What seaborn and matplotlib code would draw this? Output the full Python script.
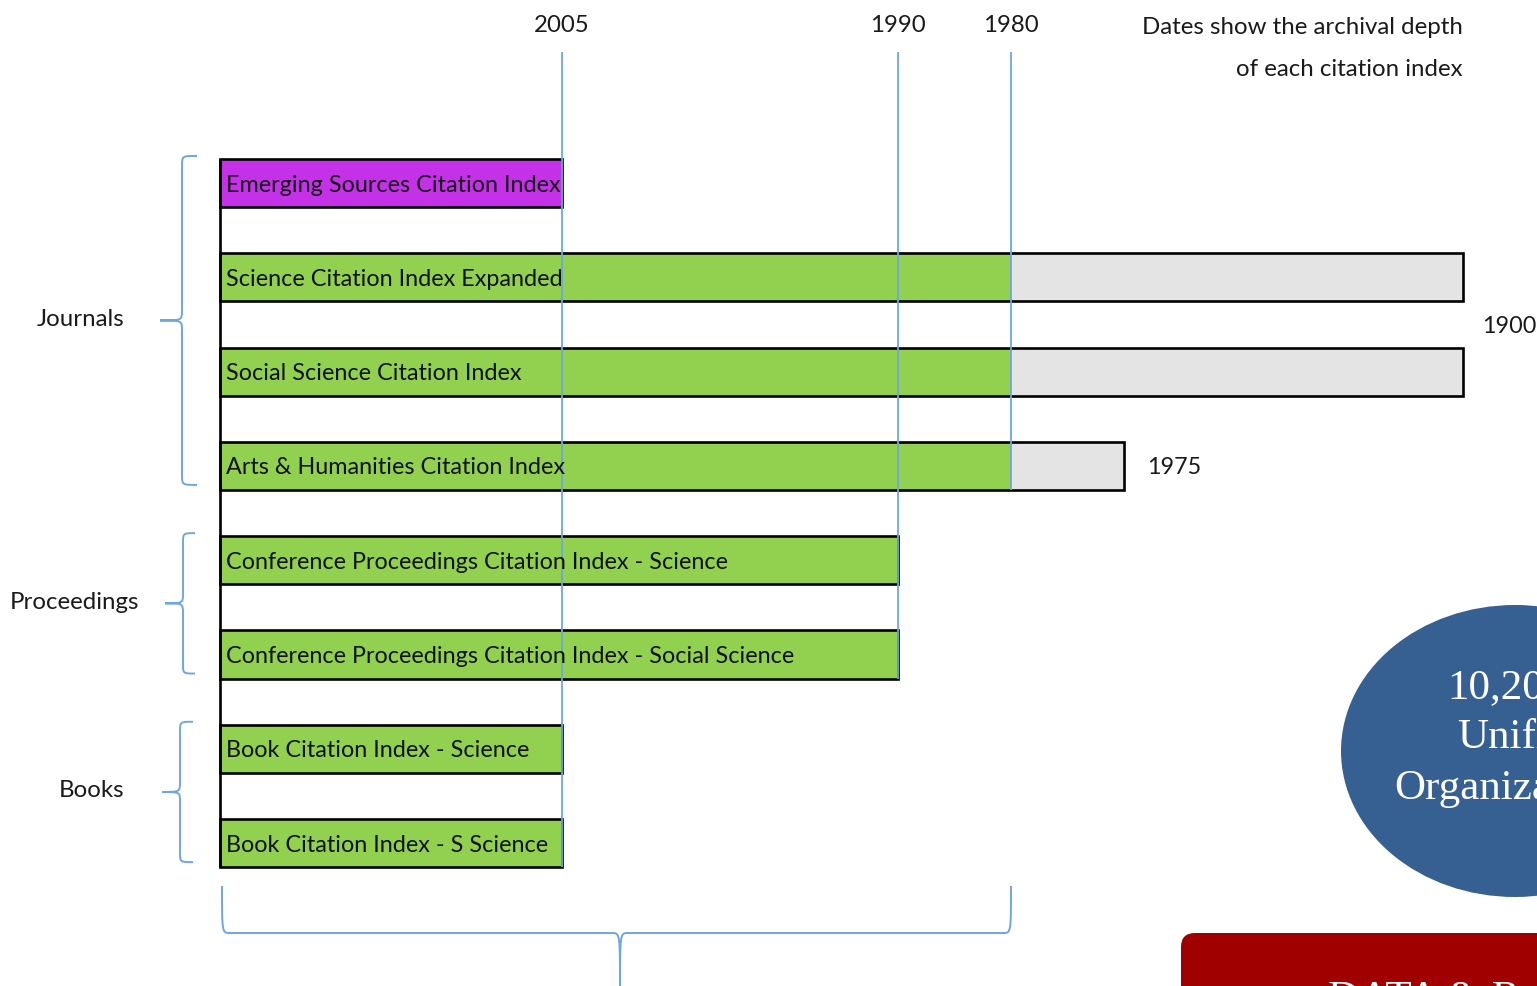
import numpy as np
import pandas as pd
import matplotlib
matplotlib.use('Agg')
import matplotlib.pyplot as plt
import seaborn as sns
from matplotlib.path import Path
from matplotlib.patches import PathPatch, Ellipse, FancyBboxPatch

# citation indexes and how far back each one goes
indexes = ['Emerging Sources Citation Index',
           'Science Citation Index Expanded',
           'Social Science Citation Index',
           'Arts & Humanities Citation Index',
           'Conference Proceedings Citation Index - Science',
           'Conference Proceedings Citation Index - Social Science',
           'Book Citation Index - Science',
           'Book Citation Index - S Science']
start_year = [2005, 1900, 1900, 1975, 1990, 1990, 2005, 2005]
colour_year = [2005, 1980, 1980, 1980, 1990, 1990, 2005, 2005]
kind = ['emerging', 'core', 'core', 'core', 'core', 'core', 'core', 'core']
groups = ['Journals', 'Proceedings', 'Books']
group_rows = [(0, 3), (4, 5), (6, 7)]
marked_years = [2005, 1990, 1980]
NOW = 2020

df = pd.DataFrame({'index': indexes,
                   'depth': [NOW - y for y in start_year],
                   'colour_depth': [NOW - y for y in colour_year],
                   'kind': kind})

# the slide squeezes older decades; piecewise scale (depth in years -> pixel)
knot_depth = np.array([-20, 0, 15, 30, 40, 45, 120, 160])
knot_px = np.array([-236, 220, 562, 898, 1011, 1124, 1463, 1644])

def fwd(d):
    return np.interp(d, knot_depth, knot_px)

def inv(p):
    return np.interp(p, knot_px, knot_depth)

W, H = 1537, 986
ROW0, ROWSTEP = 183, 94.3
BAR_H = 0.51
FS = 16.8

def row_of(py):
    return (py - ROW0) / ROWSTEP

sns.set_style('white')
plt.rcParams['font.family'] = ['Lato', 'DejaVu Sans']

fig = plt.figure(figsize=(W / 100, H / 100), dpi=100)
ax = fig.add_axes([0, 0, 1, 1])
ax.set_xscale('function', functions=(fwd, inv))

green, grey, purple = '#92D050', '#E4E4E4', '#C531E9'
blue = '#6FA6DC'

# grey full extent, then coloured part, then black outline
sns.barplot(data=df, y='index', x='depth', color=grey, width=BAR_H,
            linewidth=0, ax=ax, orient='h')
sns.barplot(data=df, y='index', x='colour_depth', hue='kind',
            palette={'emerging': purple, 'core': green}, saturation=1,
            width=BAR_H, linewidth=0, legend=False, ax=ax, orient='h')
n = len(ax.patches)
sns.barplot(data=df, y='index', x='depth', color='white', width=BAR_H, ax=ax, orient='h')
for p in ax.patches[n:]:
    p.set_facecolor('none')
    p.set_edgecolor('black')
    p.set_linewidth(1.9)
    p.set_zorder(4)
for p in ax.patches[:n]:
    p.set_edgecolor('none')

ax.set_xlim(inv(0), inv(W))
ax.set_ylim(row_of(H), row_of(0))
ax.set_axis_off()

# left axis line
ax.vlines(0, -BAR_H / 2, len(indexes) - 1 + BAR_H / 2, color='black', lw=1.9, zorder=5)

# year markers
for yr in marked_years:
    d = NOW - yr
    last = max(i for i, c in enumerate(colour_year) if c == yr)
    ax.vlines(d, row_of(52), last + BAR_H / 2, color=blue, lw=1.3, zorder=6)
    ax.text(d, row_of(25), str(yr), ha='center', va='center', fontsize=FS + 0.5, color='#1a1a1a')

# labels inside bars
for i, name in enumerate(indexes):
    ax.annotate(name, (0, i), xytext=(4.5, -1.5), textcoords='offset points',
                ha='left', va='center', fontsize=FS, color='#111111', zorder=7)

ax.annotate('1975', (NOW - 1975, 3), xytext=(17, -1.5), textcoords='offset points',
            ha='left', va='center', fontsize=FS, color='#1a1a1a')
ax.annotate('1900', (NOW - 1900, 1.5), xytext=(14, -1.5), textcoords='offset points',
            ha='left', va='center', fontsize=FS, color='#1a1a1a')

ax.text(NOW - 1900, row_of(27), 'Dates show the archival depth', ha='right', va='center',
        fontsize=FS + 0.5, color='#1a1a1a')
ax.text(NOW - 1900, row_of(70), 'of each citation index', ha='right', va='center',
        fontsize=FS + 0.5, color='#1a1a1a')

# decorations in pixel space
deco = fig.add_axes([0, 0, 1, 1], zorder=-1)
deco.set_xlim(0, W)
deco.set_ylim(H, 0)
deco.set_axis_off()
deco.patch.set_alpha(0)


def vbrace(x_end, x_spine, x_tip, y0, y1, ym, r=10):
    verts = [(x_end, y0), (x_spine, y0), (x_spine, y0), (x_spine, y0 + r),
             (x_spine, ym - r),
             (x_spine, ym), (x_spine, ym), (x_tip, ym),
             (x_spine, ym), (x_spine, ym), (x_spine, ym + r),
             (x_spine, y1 - r),
             (x_spine, y1), (x_spine, y1), (x_end, y1)]
    codes = [Path.MOVETO, Path.CURVE4, Path.CURVE4, Path.CURVE4, Path.LINETO,
             Path.CURVE4, Path.CURVE4, Path.CURVE4,
             Path.CURVE4, Path.CURVE4, Path.CURVE4, Path.LINETO,
             Path.CURVE4, Path.CURVE4, Path.CURVE4]
    deco.add_patch(PathPatch(Path(verts, codes), fill=False, edgecolor=blue, lw=1.4))


brace_x = [(197, 182, 160), (195, 183, 165), (193, 180, 162)]
label_x = [81, 75, 92]
for g, (r0, r1), (xe, xs, xt), lx in zip(groups, group_rows, brace_x, label_x):
    y0 = ROW0 + ROWSTEP * (r0 - BAR_H / 2) - 3
    y1 = ROW0 + ROWSTEP * (r1 + BAR_H / 2) - 5
    ym = (y0 + y1) / 2
    vbrace(xe, xs, xt, y0, y1, ym)
    deco.text(lx, ym - 1, g, ha='center', va='center', fontsize=FS + 0.5, color='#1a1a1a')

# bottom brace
bx0, bx1, btip, by0, by1 = 222, 1011, 620, 886, 933
verts = [(bx0, by0), (bx0, by1), (bx0, by1), (bx0 + 8, by1),
         (btip - 8, by1), (btip, by1), (btip, by1), (btip, H + 5),
         (btip, by1), (btip, by1), (btip + 8, by1),
         (bx1 - 8, by1), (bx1, by1), (bx1, by1), (bx1, by0)]
codes = [Path.MOVETO, Path.CURVE4, Path.CURVE4, Path.CURVE4,
         Path.LINETO, Path.CURVE4, Path.CURVE4, Path.CURVE4,
         Path.CURVE4, Path.CURVE4, Path.CURVE4,
         Path.LINETO, Path.CURVE4, Path.CURVE4, Path.CURVE4]
deco.add_patch(PathPatch(Path(verts, codes), fill=False, edgecolor=blue, lw=1.4))

# clipped slide elements on the right
serif = ['Liberation Serif', 'DejaVu Serif']
deco.add_patch(Ellipse((1515, 751), 348, 292, facecolor='#376092', edgecolor='none'))
for txt, x, y in [('10,200', 1447, 688), ('Unified', 1457, 738), ('Organizations', 1394, 789)]:
    deco.text(x, y, txt, ha='left', va='center', fontsize=31, color='white',
              family=serif, clip_on=True)
deco.add_patch(FancyBboxPatch((1195, 947), 400, 80, boxstyle='round,pad=14',
                              facecolor='#A00000', edgecolor='none'))
deco.text(1328, 981, 'DATA & R', ha='left', va='top', fontsize=31, color='white',
          family=serif, clip_on=True)

fig.savefig('out.png', dpi=100)
